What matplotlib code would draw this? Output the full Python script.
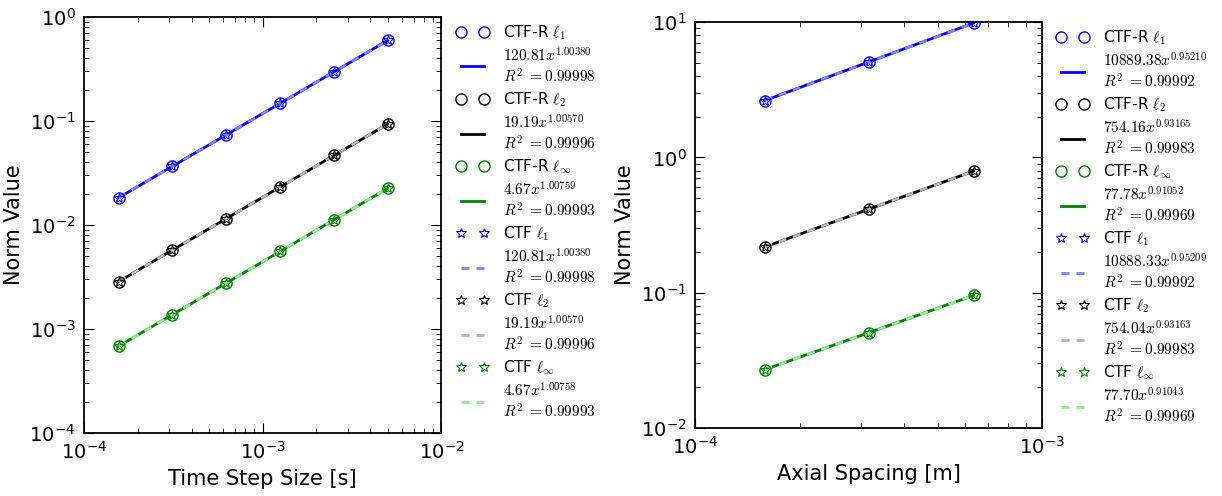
"""Convergence plots: norm of the error vs. time step and axial spacing."""

import matplotlib.pyplot as plt
import matplotlib.ticker as mticker
import numpy as np

plt.rcParams["mathtext.fontset"] = "cm"
plt.rcParams["xtick.direction"] = "in"
plt.rcParams["ytick.direction"] = "in"
plt.rcParams["xtick.top"] = True
plt.rcParams["ytick.right"] = True
plt.rcParams["xtick.major.size"] = 7
plt.rcParams["ytick.major.size"] = 7
plt.rcParams["xtick.minor.size"] = 3.5
plt.rcParams["ytick.minor.size"] = 3.5
plt.rcParams["axes.linewidth"] = 1.3

# time step study
dt = [1.5625e-4, 3.125e-4, 6.25e-4, 1.25e-3, 2.5e-3, 5e-3]
dt_ctfr = {
    "l1": [0.0183, 0.0366, 0.0735, 0.1476, 0.296, 0.593],
    "l2": [0.00285, 0.00573, 0.01151, 0.02314, 0.0465, 0.0933],
    "linf": [0.000683, 0.001374, 0.00276, 0.00556, 0.0112, 0.0225],
}
dt_ctf = {
    "l1": [0.0183, 0.0366, 0.0735, 0.1476, 0.296, 0.593],
    "l2": [0.00285, 0.00573, 0.01151, 0.02314, 0.0465, 0.0933],
    "linf": [0.000683, 0.001374, 0.00276, 0.00556, 0.0112, 0.0225],
}
# fit coefficients (a, b, R^2) for a*x^b
dt_fit_ctfr = {"l1": (120.81, 1.00380, 0.99998), "l2": (19.19, 1.00570, 0.99996),
               "linf": (4.67, 1.00759, 0.99993)}
dt_fit_ctf = {"l1": (120.81, 1.00380, 0.99998), "l2": (19.19, 1.00570, 0.99996),
              "linf": (4.67, 1.00758, 0.99993)}

# axial spacing study
dz = [1.5875e-4, 3.175e-4, 6.35e-4]
dz_ctfr = {
    "l1": [2.629, 5.086, 9.836],
    "l2": [0.2176, 0.4152, 0.7925],
    "linf": [0.02702, 0.05076, 0.09559],
}
dz_ctf = {
    "l1": [2.629, 5.086, 9.836],
    "l2": [0.2176, 0.4152, 0.7925],
    "linf": [0.02702, 0.05076, 0.09559],
}
dz_fit_ctfr = {"l1": (10889.38, 0.95210, 0.99992), "l2": (754.16, 0.93165, 0.99983),
               "linf": (77.78, 0.91052, 0.99969)}
dz_fit_ctf = {"l1": (10888.33, 0.95209, 0.99992), "l2": (754.04, 0.93163, 0.99983),
              "linf": (77.70, 0.91043, 0.99969)}

norms = ["l1", "l2", "linf"]
norm_tex = {"l1": r"$\ell_1$", "l2": r"$\ell_2$", "linf": r"$\ell_\infty$"}
dark = {"l1": "blue", "l2": "black", "linf": "green"}
light = {"l1": "#8080ff", "l2": "#b4b4b4", "linf": "#90ee90"}


def fit_label(a, b, r2):
    return r"$%.2fx^{%.5f}$" % (a, b) + "\n" + r"$R^2\ =%.5f$" % r2


def plot_panel(ax, x, ctfr, ctf, fit_ctfr, fit_ctf):
    x = np.array(x)
    for n in norms:
        ax.plot(x, ctfr[n], "o", mfc="none", mec=dark[n], ms=8, mew=1,
                label="CTF-R " + norm_tex[n], zorder=4)
        a, b, r2 = fit_ctfr[n]
        ax.plot(x, a * x ** b, "-", color=dark[n], lw=2,
                label=fit_label(a, b, r2), zorder=2)
    for n in norms:
        ax.plot(x, ctf[n], "*", mfc="none", mec=dark[n], ms=7.5, mew=0.8,
                label="CTF " + norm_tex[n], zorder=5)
        a, b, r2 = fit_ctf[n]
        ax.plot(x, a * x ** b, "--", dashes=(2.9, 2.5), color=light[n], lw=2,
                label=fit_label(a, b, r2), zorder=3)
    ax.set_xscale("log")
    ax.set_yscale("log")
    ax.xaxis.set_minor_formatter(mticker.NullFormatter())
    ax.yaxis.set_minor_formatter(mticker.NullFormatter())
    ax.set_ylabel("Norm Value", fontsize=15)
    ax.tick_params(labelsize=14, pad=6)
    ax.legend(loc="upper left", bbox_to_anchor=(1.025, 1.0), frameon=False,
              numpoints=2, handlelength=2.1, handletextpad=0.95, fontsize=11,
              labelspacing=0.3, borderaxespad=0.0)


fig = plt.figure(figsize=(12.22, 4.96), dpi=100)
ax1 = fig.add_axes([0.0687, 0.127, 0.2925, 0.839])
ax2 = fig.add_axes([0.5688, 0.137, 0.2839, 0.8185])

plot_panel(ax1, dt, dt_ctfr, dt_ctf, dt_fit_ctfr, dt_fit_ctf)
ax1.set_xlim(1e-4, 1e-2)
ax1.set_ylim(1e-4, 1e0)
ax1.set_xlabel("Time Step Size [s]", fontsize=15)

plot_panel(ax2, dz, dz_ctfr, dz_ctf, dz_fit_ctfr, dz_fit_ctf)
ax2.set_xlim(1e-4, 1e-3)
ax2.set_ylim(1e-2, 1e1)
ax2.set_xlabel("Axial Spacing [m]", fontsize=15)

fig.savefig("out.png", dpi=100)
